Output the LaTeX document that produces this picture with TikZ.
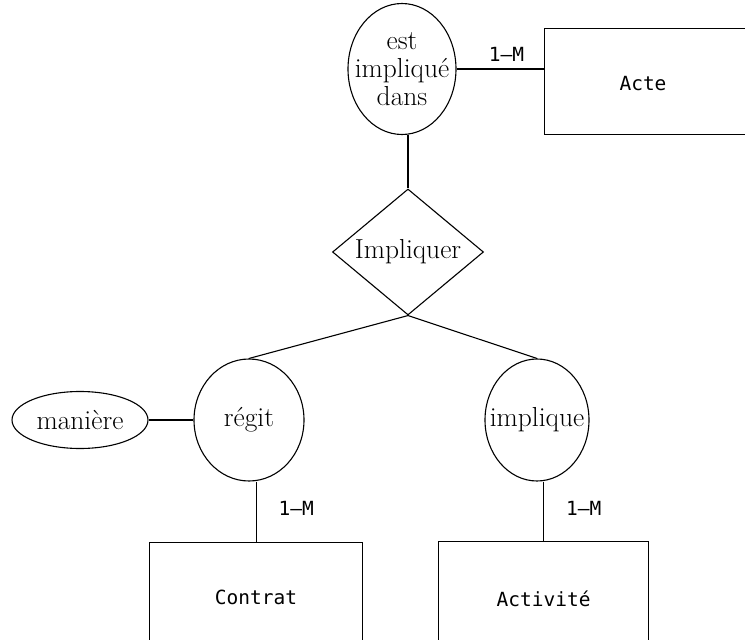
\documentclass[tikz,border=0pt]{standalone}
\usepackage{fontspec}
\newfontfamily\boxfont{DejaVu Sans Mono}
\usetikzlibrary{shapes.geometric}
\begin{document}
\begin{tikzpicture}[x=1pt,y=-1pt,
  every node/.style={font=\fontsize{27.5}{28}\selectfont},
  line/.style={line width=1.1pt},
  entity/.style={draw, rectangle, line width=1.1pt, inner sep=0pt,
    font=\boxfont\fontsize{19.5}{22}\selectfont},
  role/.style={draw, ellipse, line width=1.1pt, inner sep=0pt},
  relation/.style={draw, diamond, line width=1.1pt, inner sep=0pt},
  boxtext/.style={font=\boxfont\fontsize{19.5}{22}\selectfont, inner sep=0pt},
  card/.style={font=\boxfont\fontsize{19.5}{22}\selectfont, inner sep=0pt}
]
\useasboundingbox (0,0) rectangle (745,640);
\clip (0,0) rectangle (745,640);

% roles and relationship
\node[role, minimum width=108, minimum height=131,
  label={[align=center]center:{est\\impliqué\\dans}}] (eid) at (402,69) {};
\node[relation, minimum width=151, minimum height=126,
  label={center:Impliquer}] (imp) at (408,252) {};
\node[role, minimum width=110, minimum height=122,
  label={center:régit}] (reg) at (249,420) {};
\node[role, minimum width=104, minimum height=122,
  label={center:implique}] (impl) at (537,420) {};
\node[role, minimum width=136, minimum height=57,
  label={center:manière}] (man) at (80,420) {};

% entities
\node[entity, minimum width=216, minimum height=106, anchor=north west] (acte) at (544,28) {};
\node[boxtext] (actename) at (643,84) {Acte};
\node[entity, minimum width=213, minimum height=110, anchor=north west] (contrat) at (149,542) {Contrat};
\node[entity, minimum width=210, minimum height=114, anchor=north west] (activite) at (438,541) {Activité};

% connectors
\draw[line] (eid.east) -- node[card, above=7pt, pos=0.57] {1–M} (eid.east -| acte.west);
\draw[line] (imp.north |- eid.south) -- (imp.north);
\draw[line] (imp.south) -- (reg.north);
\draw[line] (imp.south) -- (impl.north);
\draw[line] (man.east) -- (reg.west);
\draw[line] (contrat.north |- reg.south) -- node[card, right=22pt, pos=0.45] {1–M} (contrat.north);
\draw[line] (activite.north |- impl.south) -- node[card, right=22pt, pos=0.45] {1–M} (activite.north);
\end{tikzpicture}
\end{document}
